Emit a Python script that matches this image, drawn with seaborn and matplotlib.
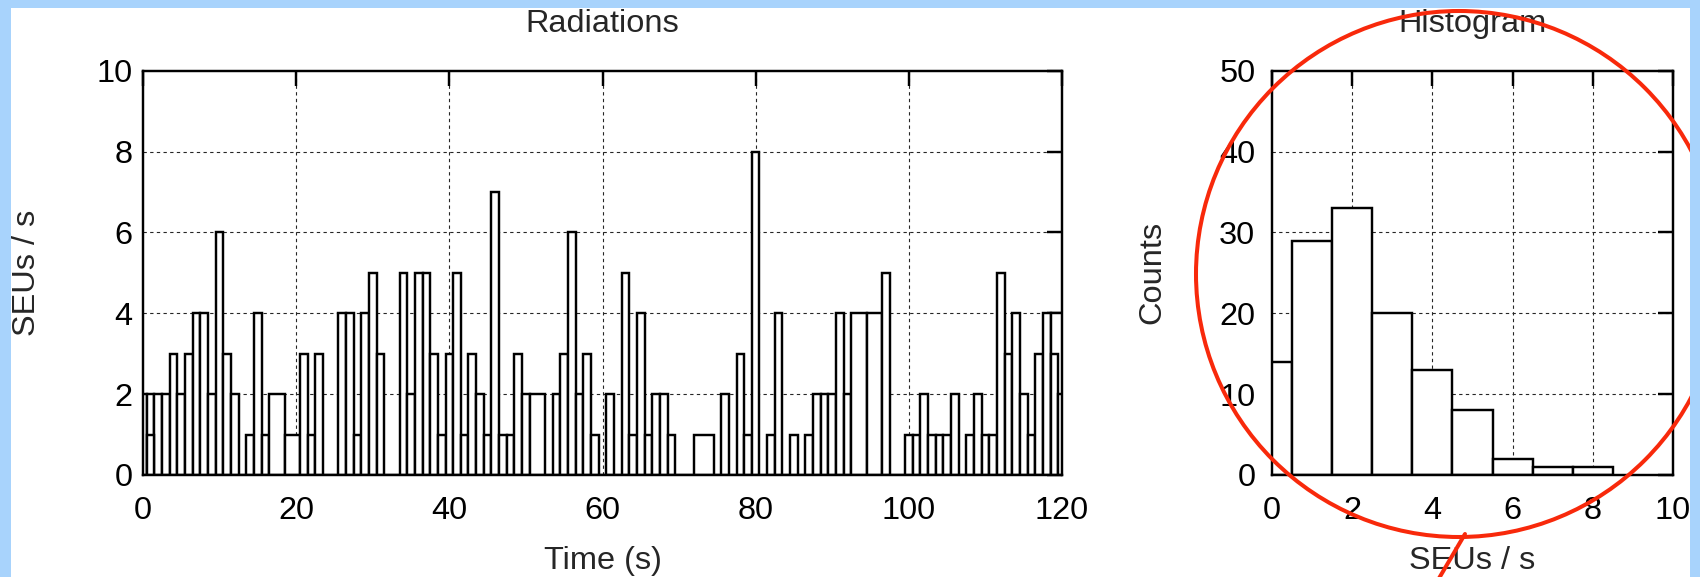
import matplotlib
matplotlib.use("Agg")
import matplotlib.pyplot as plt
import matplotlib.patches as mpatches
import matplotlib.lines as mlines
import seaborn as sns

# -------------------------------
# Data
# -------------------------------
# left edge (s) of each counting window and SEUs counted in it
t_left = [-0.5, 0.5, 1.5, 2.5, 3.5, 4.5, 5.5, 6.5, 7.5, 8.5,
          9.5, 10.5, 11.5, 12.5, 13.5, 14.5, 15.5, 16.5, 18.5, 20.5,
          21.5, 22.5, 23.5, 25.5, 26.5, 27.5, 28.5, 29.5, 30.5, 31.5,
          33.5, 34.5, 35.5, 36.5, 37.5, 38.5, 39.5, 40.5, 41.5, 42.5,
          43.5, 44.5, 45.5, 46.5, 47.5, 48.5, 49.5, 50.5, 52.5, 53.5,
          54.5, 55.5, 56.5, 57.5, 58.5, 59.5, 60.5, 61.5, 62.5, 63.5,
          64.5, 65.5, 66.5, 67.5, 68.5, 69.5, 72.0, 74.5, 75.5, 76.5,
          77.5, 78.5, 79.5, 80.5, 81.5, 82.5, 83.5, 84.5, 85.5, 86.5,
          87.5, 88.5, 89.5, 90.5, 91.5, 92.5, 94.5, 96.5, 97.5, 99.5,
          100.5, 101.5, 102.5, 103.5, 104.5, 105.5, 106.5, 107.5, 108.5, 109.5,
          110.5, 111.5, 112.5, 113.5, 114.5, 115.5, 116.5, 117.5, 118.5]
t_end = 120.5
seus = [2, 2, 2, 2, 3, 2, 3, 4, 4, 2,
        6, 3, 2, 0, 1, 4, 1, 2, 1, 3,
        1, 3, 0, 4, 4, 1, 4, 5, 3, 0,
        5, 2, 5, 5, 3, 1, 3, 5, 1, 3,
        2, 1, 7, 1, 1, 3, 2, 2, 0, 2,
        3, 6, 2, 3, 1, 0, 2, 0, 5, 1,
        4, 1, 2, 2, 1, 0, 1, 0, 2, 0,
        3, 1, 8, 0, 1, 4, 0, 1, 0, 1,
        2, 2, 2, 4, 2, 4, 4, 5, 0, 1,
        1, 2, 1, 1, 1, 2, 0, 1, 2, 1,
        1, 5, 3, 4, 2, 1, 3, 4, 4]

# windows that overlap the ones above (drawn on top)
overlap_left = [0.5, 118.5, 119.5]
overlap_right = [1.5, 119.5, 120.5]
overlap_seus = [1, 3, 2]

# histogram of SEUs / s
hist_seus = [0, 1, 2, 3, 4, 5, 6, 7, 8]
hist_counts = [14, 29, 33, 20, 13, 8, 2, 1, 1]

# -------------------------------
# Style
# -------------------------------
sns.set_style("white")
plt.rcParams["font.family"] = ["Liberation Sans", "DejaVu Sans"]
FS = 23.4
LW = 1.75

W, H = 1700, 577
fig = plt.figure(figsize=(W / 100, H / 100), dpi=100)
fig.patch.set_facecolor("white")


def px_axes(x0, x1, top, bottom):
    return fig.add_axes([x0 / W, 1 - bottom / H, (x1 - x0) / W, (bottom - top) / H])


ax1 = px_axes(143, 1062, 70.7, 475)
ax2 = px_axes(1272, 1673, 70.7, 475)

box_kws = dict(color="white", edgecolor="black", linewidth=LW, alpha=1)

# -------------------------------
# Left: SEUs per time window
# -------------------------------
edges = t_left + [t_end]
centers = [(a + b) / 2 for a, b in zip(edges[:-1], edges[1:])]
sns.histplot(x=centers, weights=seus, bins=edges, ax=ax1, **box_kws)
for a, b, v in zip(overlap_left, overlap_right, overlap_seus):
    sns.histplot(x=[(a + b) / 2], weights=[v], bins=[a, b], ax=ax1, **box_kws)

ax1.set_xlim(0, 120)
ax1.set_ylim(0, 10)
ax1.set_xticks(range(0, 121, 20))
ax1.set_yticks(range(0, 11, 2))

# -------------------------------
# Right: histogram
# -------------------------------
sns.histplot(x=hist_seus, weights=hist_counts, discrete=True, ax=ax2, **box_kws)
ax2.set_xlim(0, 10)
ax2.set_ylim(0, 50)
ax2.set_xticks(range(0, 11, 2))
ax2.set_yticks(range(0, 51, 10))

for ax in (ax1, ax2):
    # gnuplot-like grid under the boxes, ticks on top
    for x in ax.get_xticks()[1:-1]:
        ax.axvline(x, color="0.15", linewidth=0.8, linestyle=(0, (3, 3)), zorder=0.3)
    for y in ax.get_yticks()[1:-1]:
        ax.axhline(y, color="0.15", linewidth=0.8, linestyle=(0, (3, 3)), zorder=0.3)
    ax.tick_params(direction="in", length=10.8, width=LW, top=True, right=True,
                   labelsize=FS, colors="black")
    ax.tick_params(axis="x", pad=15)
    for s in ax.spines.values():
        s.set_linewidth(LW)
        s.set_color("black")
        s.set_visible(True)

ax1.tick_params(axis="y", pad=7.5)
ax2.tick_params(axis="y", pad=12)

ax1.set_title("Radiations", fontsize=FS, y=1.115, pad=0, va="center")
ax2.set_title("Histogram", fontsize=FS, y=1.115, pad=0, va="center")

ax1.set_xlabel("Time (s)", fontsize=FS)
ax1.set_ylabel("SEUs / s", fontsize=FS)
ax2.set_xlabel("SEUs / s", fontsize=FS)
ax2.set_ylabel("Counts", fontsize=FS)
ax1.xaxis.set_label_coords(0.5, (475 - 561) / 404.3)
ax2.xaxis.set_label_coords(0.5, (475 - 561) / 404.3)
ax1.yaxis.set_label_coords((27 - 143) / 919, 0.5)
ax2.yaxis.set_label_coords((1152 - 1272) / 401, 0.5)
for lab in (ax1.xaxis.label, ax2.xaxis.label, ax1.yaxis.label, ax2.yaxis.label):
    lab.set_va("center")
    lab.set_ha("center")

# -------------------------------
# Red annotation and blue frame
# -------------------------------
r = 263
circle = mpatches.Ellipse((1459 / W, 1 - 274 / H), 2 * r / W, 2 * r / H,
                          transform=fig.transFigure, fill=False,
                          edgecolor="#f8290b", linewidth=2.9, zorder=10)
fig.add_artist(circle)
pointer = mlines.Line2D([1465 / W, 1438 / W], [1 - 534 / H, 1 - 580 / H],
                        transform=fig.transFigure, color="#f8290b",
                        linewidth=2.9, zorder=10)
fig.add_artist(pointer)

frame = "#a8d3fc"
for x0, y0, w, h in [(0, 0, 11, H), (1690, 0, W - 1690, H), (0, 0, W, 8)]:
    fig.add_artist(mpatches.Rectangle((x0 / W, 1 - (y0 + h) / H), w / W, h / H,
                                      transform=fig.transFigure, facecolor=frame,
                                      edgecolor="none", zorder=20))

fig.savefig("out.png", dpi=100)
